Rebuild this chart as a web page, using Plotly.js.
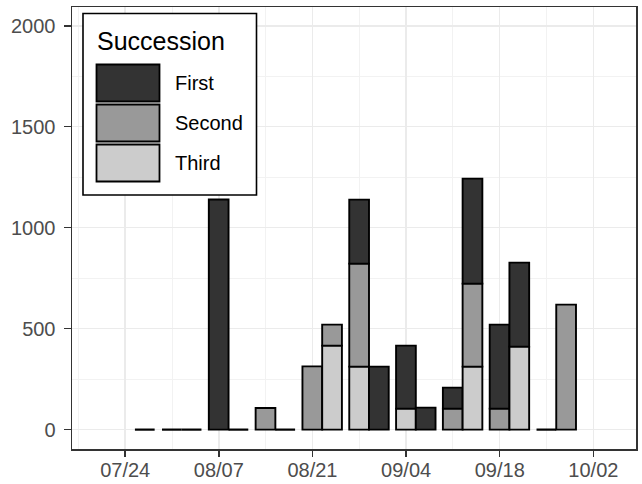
<!DOCTYPE html>
<html>
<head>
<meta charset="utf-8">
<script src="https://cdn.plot.ly/plotly-3.0.1.min.js"></script>
<style>html,body{margin:0;padding:0;background:#fff;}#chart{width:642px;height:484px;}</style>
</head>
<body>
<div id="chart"></div>
<script>
// Sampling dates (weekly)
var dates = ['2021-07-25','2021-08-01','2021-08-08','2021-08-15','2021-08-22','2021-08-29','2021-09-05','2021-09-12','2021-09-19','2021-09-26'];
// Left bar of each pair (group 1)
var first1  = [null, 0, 1140,   0,   0, 317, 312, 104, 416, 0];
var second1 = [null, 0,    0, 107, 313, 510,   0, 104, 104, 0];
var third1  = [null, 0,    0,   0,   0, 312, 104,   0,   0, 0];
// Right bar of each pair (group 2)
var first2  = [0, 0, 0, 0,   0, 312, 109, 520, 416,   0];
var second2 = [0, 0, 0, 0, 104,   0,   0, 411,   0, 619];
var third2  = [0, 0, 0, 0, 416,   0,   0, 312, 411,   0];

var successions = ['First','Second','Third'];
var fills = {First:'#333333', Second:'#999999', Third:'#cccccc'};

var DAY = 86400000;
var barW = 2.95 * DAY;
var shift = 0.45 * DAY;
var offs = [shift - barW, shift];

function nz(v){ return v == null ? 0 : v; }

var groups = [
  {First:first1, Second:second1, Third:third1},
  {First:first2, Second:second2, Third:third2}
];

var traces = [];
var zx = [], zy = [];
groups.forEach(function(g, gi){
  var th = g.Third, se = g.Second, fi = g.First;
  var baseThird = th.map(function(){return 0;});
  var baseSecond = th.map(function(v){return nz(v);});
  var baseFirst = th.map(function(v,i){return nz(v)+nz(se[i]);});
  var bases = {Third:baseThird, Second:baseSecond, First:baseFirst};
  ['Third','Second','First'].forEach(function(s){
    var xs = [], ys = [], bs = [];
    g[s].forEach(function(v,i){
      if (v != null && v > 0) { xs.push(dates[i]); ys.push(v); bs.push(bases[s][i]); }
    });
    traces.push({
      type:'bar', x:xs, y:ys, base:bs, name:s, showlegend:false,
      width: barW, offset: offs[gi],
      marker:{color:fills[s], line:{color:'#000', width:1.9}},
      hoverinfo:'skip'
    });
  });
  // zero-total bars drawn as flat lines
  dates.forEach(function(d,i){
    if (fi[i] != null) {
      var tot = nz(fi[i]) + nz(se[i]) + nz(th[i]);
      if (tot === 0) {
        var t0 = new Date(d + 'T00:00:00Z').getTime() + offs[gi];
        zx.push(new Date(t0).toISOString(), new Date(t0 + barW).toISOString(), null);
        zy.push(0, 0, null);
      }
    }
  });
});
traces.push({type:'scatter', mode:'lines', x:zx, y:zy, showlegend:false, hoverinfo:'skip',
  line:{color:'#000', width:2.2}});

// legend (drawn manually to mimic ggplot key boxes)
var L = 72, R = 636, T = 7, B = 449;
function px(x){ return (x - L) / (R - L); }
function py(y){ return (B - y) / (B - T); }
var shapes = [
  {type:'rect', xref:'paper', yref:'paper', x0:px(83), x1:px(256.5), y0:py(195), y1:py(13.5),
   fillcolor:'#fff', line:{color:'#000', width:1.6}}
];
var annotations = [
  {xref:'paper', yref:'paper', x:px(95), y:py(41), xanchor:'left', yanchor:'middle', showarrow:false,
   text:'Succession', font:{family:'Liberation Sans, Arial, sans-serif', size:25, color:'#000'}}
];
var keyTops = [64.5, 104.5, 144.5];
successions.forEach(function(s,i){
  shapes.push({type:'rect', xref:'paper', yref:'paper', x0:px(96.5), x1:px(159.5),
    y0:py(keyTops[i]+37), y1:py(keyTops[i]), fillcolor:fills[s], line:{color:'#000', width:1.8}});
  annotations.push({xref:'paper', yref:'paper', x:px(172.5), y:py(keyTops[i]+18.5), xanchor:'left', yanchor:'middle',
    showarrow:false, text:s, font:{family:'Liberation Sans, Arial, sans-serif', size:20, color:'#000'}});
});

var layout = {
  width:642, height:484,
  margin:{l:L, r:642-R, t:T, b:484-B, pad:0},
  paper_bgcolor:'#fff', plot_bgcolor:'#fff',
  barmode:'overlay',
  showlegend:false,
  font:{family:'Liberation Sans, Arial, sans-serif', size:20, color:'#4d4d4d'},
  xaxis:{
    type:'date', range:['2021-07-16 01:00','2021-10-08 09:00'],
    tick0:'2021-07-24', dtick:14*DAY, tickformat:'%m/%d',
    ticks:'outside', ticklen:6, tickwidth:1.5, tickcolor:'#333',
    showgrid:true, gridcolor:'#ebebeb', gridwidth:1.5,
    minor:{tick0:'2021-07-17', dtick:14*DAY, showgrid:true, gridcolor:'#f2f2f2', gridwidth:1},
    showline:true, mirror:true, linecolor:'#333', linewidth:1.5,
    zeroline:false, tickfont:{size:20, color:'#4d4d4d'}, ticklabelstandoff:-4
  },
  yaxis:{
    range:[-96, 2093], tickvals:[0,500,1000,1500,2000],
    ticks:'outside', ticklen:7, tickwidth:1.5, tickcolor:'#333',
    showgrid:true, gridcolor:'#ebebeb', gridwidth:1.5,
    minor:{tickvals:[250,750,1250,1750], showgrid:true, gridcolor:'#f2f2f2', gridwidth:1},
    showline:true, mirror:true, linecolor:'#333', linewidth:1.5,
    zeroline:false, tickfont:{size:20, color:'#4d4d4d'}, ticklabelstandoff:4
  },
  shapes:shapes,
  annotations:annotations
};

Plotly.newPlot('chart', traces, layout, {staticPlot:true, displayModeBar:false});
</script>
</body>
</html>
